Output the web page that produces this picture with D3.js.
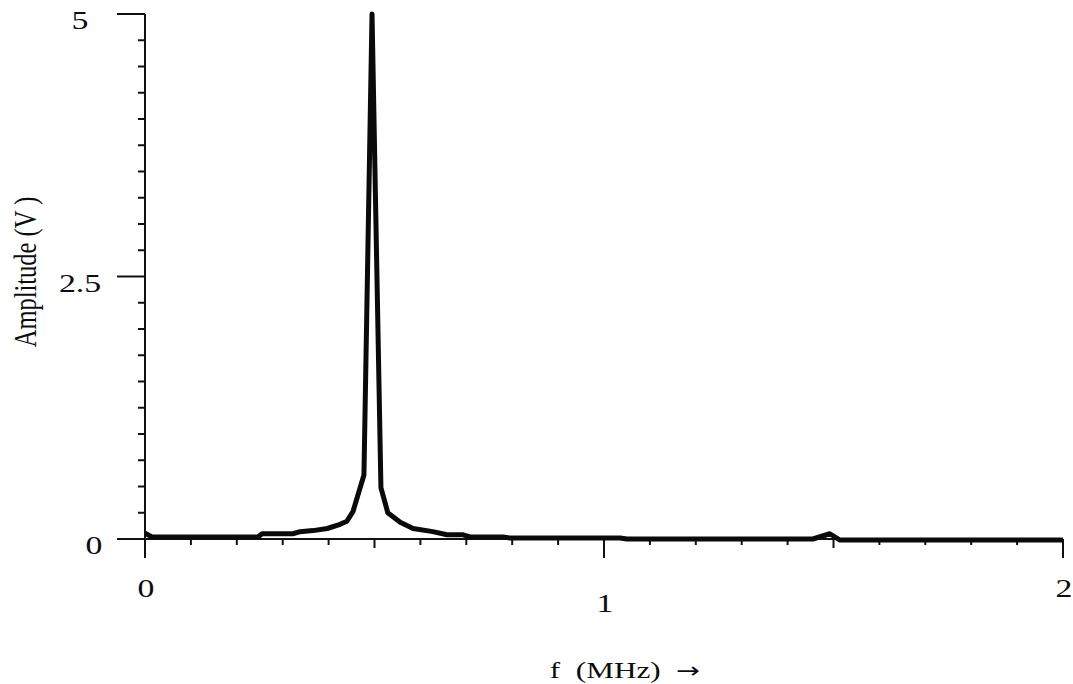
<!DOCTYPE html>
<html>
<head>
<meta charset="utf-8">
<script src="https://cdn.jsdelivr.net/npm/d3@7"></script>
<style>
  html, body { margin: 0; padding: 0; background: #fff; }
  svg { display: block; }
  text { font-family: "Liberation Serif", "Times New Roman", serif; fill: #0d0d0d; }
</style>
</head>
<body>
<svg id="chart" width="1073" height="684"></svg>
<script>
// ---- data ----
const freqMHz = [0, 0.015, 0.246, 0.255, 0.322, 0.338, 0.366, 0.397, 0.425, 0.440, 0.453, 0.477, 0.4946,
                 0.514, 0.529, 0.556, 0.584, 0.627, 0.658, 0.693, 0.708, 0.780, 0.795, 1.035, 1.050,
                 1.455, 1.492, 1.514, 2.0];
const amplitudeV = [0.055, 0.02, 0.02, 0.05, 0.05, 0.07, 0.08, 0.10, 0.14, 0.17, 0.26, 0.61, 5.0,
                    0.49, 0.25, 0.16, 0.10, 0.07, 0.04, 0.04, 0.02, 0.02, 0.01, 0.01, 0.0,
                    0.0, 0.05, -0.01, -0.01];
const xMajorTicks = [0, 1, 2];
const xMidTicks = [0.5, 1.5];
const xMinorTicks = [0.1, 0.2, 0.3, 0.4, 0.6, 0.7, 0.8, 0.9, 1.1, 1.2, 1.3, 1.4, 1.6, 1.7, 1.8, 1.9];
const yMajorTicks = [0, 2.5, 5];
const yMinorTicks = [0.25, 0.5, 0.75, 1, 1.25, 1.5, 1.75, 2, 2.25, 2.75, 3, 3.25, 3.5, 3.75, 4, 4.25, 4.5, 4.75];
const xTickLabels = ["0", "1", "2"];
const yTickLabels = ["0", "2.5", "5"];
const xTitle = "f  (MHz)  ";
const xArrow = "\u2192";
const yTitle = "Amplitude (V )";

// ---- layout ----
const svg = d3.select("#chart");
const x = d3.scaleLinear().domain([0, 2]).range([145, 1063]);
const y = d3.scaleLinear().domain([0, 5]).range([539, 14]);
const stretch = 1.3; // reference text is horizontally stretched
const ink = "#111";

const axes = svg.append("g").attr("stroke", ink).attr("stroke-width", 2);

// x axis line
axes.append("line").attr("x1", 117).attr("x2", x(2)).attr("y1", y(0)).attr("y2", y(0));
// y axis line (extends below zero)
axes.append("line").attr("x1", x(0)).attr("x2", x(0)).attr("y1", y(5)).attr("y2", 558);

// x ticks
axes.selectAll(".xmin").data(xMinorTicks).join("line")
  .attr("x1", d => x(d)).attr("x2", d => x(d)).attr("y1", y(0)).attr("y2", y(0) + 6);
axes.selectAll(".xmid").data(xMidTicks).join("line")
  .attr("x1", d => x(d)).attr("x2", d => x(d)).attr("y1", y(0)).attr("y2", y(0) + 9);
axes.selectAll(".xmaj").data(xMajorTicks).join("line")
  .attr("x1", d => x(d)).attr("x2", d => x(d)).attr("y1", y(0)).attr("y2", 558);

// y ticks
axes.selectAll(".ymin").data(yMinorTicks).join("line")
  .attr("x1", x(0) - 7).attr("x2", x(0)).attr("y1", d => y(d)).attr("y2", d => y(d));
axes.selectAll(".ymaj").data(yMajorTicks).join("line")
  .attr("x1", 117).attr("x2", x(0)).attr("y1", d => y(d)).attr("y2", d => y(d));

// tick labels
svg.selectAll(".xl").data(xMajorTicks).join("text")
  .attr("transform", (d, i) => `translate(${x(d) + 1},${d === 1 ? 612 : 597}) scale(${stretch},1)`)
  .attr("text-anchor", "middle").attr("font-size", 26)
  .text((d, i) => xTickLabels[i]);

svg.selectAll(".yl").data(yMajorTicks).join("text")
  .attr("transform", d => `translate(${d === 0 ? 94 : 80},${y(d) + 15}) scale(${stretch},1)`)
  .attr("text-anchor", "middle").attr("font-size", 26)
  .text((d, i) => yTickLabels[i]);

// axis titles
const xt = svg.append("text")
  .attr("transform", `translate(625,678) scale(${stretch},1)`)
  .attr("text-anchor", "middle").attr("font-size", 24)
  .style("white-space", "pre");
xt.append("tspan").text(xTitle);
xt.append("tspan").attr("font-family", "DejaVu Sans").attr("font-size", 22).text(xArrow);

svg.append("text")
  .attr("transform", `translate(36,272) scale(${stretch},1) rotate(-90)`)
  .attr("text-anchor", "middle").attr("font-size", 24.5)
  .style("white-space", "pre")
  .text(yTitle);

// spectrum line
const pts = freqMHz.map((f, i) => [f, amplitudeV[i]]);
svg.append("path")
  .datum(pts)
  .attr("fill", "none")
  .attr("stroke", "#0a0a0a")
  .attr("stroke-width", 5)
  .attr("stroke-linejoin", "round")
  .attr("stroke-linecap", "butt")
  .attr("d", d3.line().x(d => x(d[0])).y(d => y(d[1])));
</script>
</body>
</html>
